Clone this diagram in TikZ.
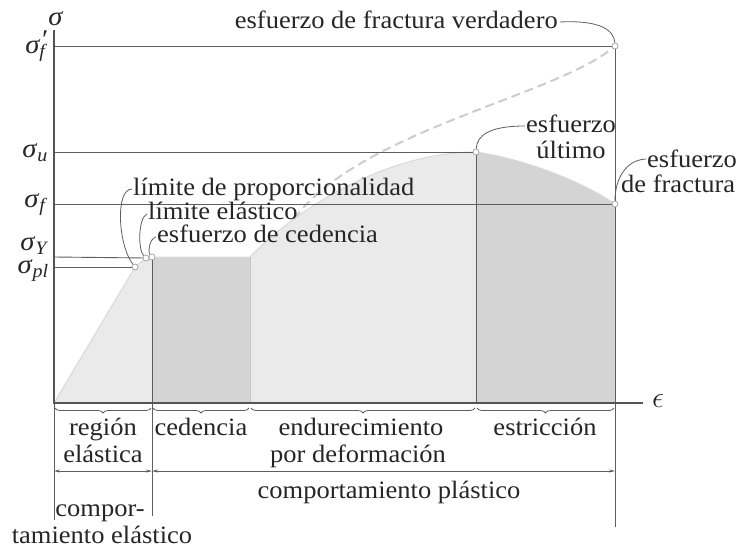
\RequirePackage{fix-cm}
\documentclass[tikz,border=0pt]{standalone}
\usepackage{fontspec}
\setmainfont{Liberation Serif}[FakeStretch=1.06]
\usetikzlibrary{decorations.pathreplacing,arrows.meta}
\definecolor{lightfill}{HTML}{EAEAEA}
\definecolor{darkfill}{HTML}{D4D4D4}
\definecolor{linec}{HTML}{5E5E5E}
\definecolor{txt}{HTML}{262626}
\newcommand\lblfont{\fontsize{25}{27}\selectfont}
\newcommand\sig{\textit{σ}}
\newcommand\subtxt[1]{\textsubscript{\textit{#1}}}
\tikzset{
  every node/.style={inner sep=0pt, text=txt, font=\lblfont},
  refline/.style={draw=linec, line width=0.9pt},
  axisline/.style={draw=linec!90!black, line width=1.6pt},
  edge/.style={draw=gray!45, line width=0.9pt},
  curveline/.style={draw=gray!30, line width=1pt},
  dashline/.style={draw=gray!40, line width=2pt, dash pattern=on 9pt off 5pt},
  leader/.style={draw=linec, line width=0.8pt},
  bracestyle/.style={draw=linec, line width=0.8pt, decorate, decoration={brace, mirror, amplitude=5pt}},
  dimline/.style={draw=linec, line width=0.8pt, {Stealth[length=6pt,width=3pt]}-{Stealth[length=6pt,width=3pt]}},
  dotpt/.style={circle, draw=gray!70, fill=white, line width=0.8pt, minimum size=6pt, inner sep=0pt},
  greek/.style={font=\fontsize{27}{29}\selectfont},
}
\begin{document}
\begin{tikzpicture}[x=1pt,y=-1pt]
\useasboundingbox (0,0) rectangle (753,549);
% key points
\coordinate (O) at (54,403);
\coordinate (PL) at (135,267);
\coordinate (EL) at (146,258);
\coordinate (Y) at (152,257);
\coordinate (H) at (250,257);
\coordinate (U) at (476,152);
\coordinate (F) at (615,204);
\coordinate (FT) at (615,46);
\coordinate (Yb) at (152,403);
\coordinate (Hb) at (250,403);
\coordinate (Ub) at (476,403);
\coordinate (Fb) at (615,403);
% fills
\fill[lightfill] (O) -- (PL) -- (EL) -- (Y) -- (Yb) -- cycle;
\fill[darkfill] (Y) -- (H) -- (Hb) -- (Yb) -- cycle;
\fill[lightfill] (H) .. controls (300,205) and (390,152) .. (U) -- (Ub) -- (Hb) -- cycle;
\fill[darkfill] (U) .. controls (520,158) and (580,180) .. (F) -- (Fb) -- (Ub) -- cycle;
% curve outline
\draw[curveline] (O) -- (PL) -- (EL) -- (Y) -- (H) .. controls (300,205) and (390,152) .. (U) .. controls (520,158) and (580,180) .. (F);
\path (H) .. controls (300,205) and (390,152) .. (U) coordinate[pos=0.25] (D0);
% dashed true curve
\draw[dashline] (D0) .. controls (360,130) and (560,95) .. (FT);
% region edges
\draw[edge] (H) -- (Hb);
% reference lines
\coordinate (aFT) at (54,46);
\coordinate (aU) at (54,152);
\coordinate (aF) at (54,204);
\coordinate (aY) at (54,257);
\coordinate (aPL) at (54,267);
\draw[refline] (aFT) -- (FT);
\draw[refline] (aU) -- (U);
\draw[refline] (aF) -- (F);
\draw[refline] (aY) -- (EL);
\draw[refline] (aPL) -- (PL);
% verticals
\coordinate (vO) at (54,520);
\coordinate (vY) at (152,516);
\coordinate (vF) at (615,527);
\draw[refline] (Y) -- (vY);
\draw[refline] (U) -- (Ub);
\draw[refline] (FT) -- (vF);
\draw[refline] (O) -- (vO);
% axes
\coordinate (atop) at (54,30);
\coordinate (aend) at (643,403);
\draw[axisline] (atop) -- (O) -- (aend);
% braces
\draw[bracestyle] (55,408) -- (151,408);
\draw[bracestyle] (153,408) -- (249,408);
\draw[bracestyle] (251,408) -- (475,408);
\draw[bracestyle] (477,408) -- (614,408);
% dimension arrows
\coordinate (d1) at (54,471);
\coordinate (d2) at (152,471);
\coordinate (d3) at (615,471);
\draw[dimline] (d1) -- (d2);
\draw[dimline] (d2) -- (d3);
% points
\node[dotpt] (pPL) at (PL) {};
\node[dotpt] (pEL) at (EL) {};
\node[dotpt] (pY) at (Y) {};
\node[dotpt] (pU) at (U) {};
\node[dotpt] (pF) at (F) {};
\node[dotpt] (pFT) at (FT) {};
% axis labels
\node[greek, anchor=base] (lsig) at (56,25) {\sig};
\node[font=\fontsize{30}{32}\selectfont] (leps) at (658,401) {$\epsilon$};
\node[greek, anchor=base east] (lsfp) at (48,53) {\sig\raisebox{0.35ex}{\textit{′}}\kern-0.28em\subtxt{f}};
\node[greek, anchor=base east] (lsu) at (48,157) {\sig\subtxt{u}};
\node[greek, anchor=base east] (lsf) at (48,207) {\sig\subtxt{f}};
\node[greek, anchor=base east] (lsy) at (49,250) {\sig\subtxt{Y}};
\node[greek, anchor=base east] (lspl) at (49,273) {\sig\subtxt{pl}};
% callout texts
\node[anchor=base east] (t1) at (558,28) {esfuerzo de fractura verdadero};
\node[anchor=base west] (t2) at (133,195) {límite de proporcionalidad};
\node[anchor=base west] (t3) at (148,219) {límite elástico};
\node[anchor=base west] (t4) at (157,242) {esfuerzo de cedencia};
\node[anchor=base west] (t5) at (526,132) {esfuerzo};
\node[anchor=base] (t6) at (571,158) {último};
\node[anchor=base west] (t7) at (647,167) {esfuerzo};
\node[anchor=base west] (t8) at (621,192) {de fractura};
% leaders
\draw[leader] ([xshift=2pt,yshift=6pt]t1.base east) .. controls (600,20) and (614,30) .. (pFT);
\draw[leader] ([xshift=-1pt,yshift=6pt]t2.base west) .. controls (115,189) and (118,245) .. (pPL);
\draw[leader] ([xshift=-1pt,yshift=5pt]t3.base west) .. controls (138,218) and (138,250) .. (pEL);
\draw[leader] ([xshift=-1pt,yshift=5pt]t4.base west) .. controls (149,239) and (148,252) .. (pY);
\draw[leader] ([xshift=-1pt,yshift=6pt]t5.base west) .. controls (490,126) and (477,135) .. (pU);
\draw[leader] ([xshift=-1pt,yshift=8pt]t7.base west) .. controls (625,160) and (615,180) .. (pF);
% bottom labels
\node[anchor=base] (b1) at (103,435) {región};
\node[anchor=base] (b2) at (103,462) {elástica};
\node[anchor=base] (b3) at (201,435) {cedencia};
\node[anchor=base] (b4) at (361,435) {endurecimiento};
\node[anchor=base] (b5) at (358,462) {por deformación};
\node[anchor=base] (b6) at (545,435) {estricción};
\node[anchor=base] (b7) at (389,498) {comportamiento plástico};
\node[anchor=base] (b8) at (100,516) {compor-};
\node[anchor=base] (b9) at (102,543) {tamiento elástico};
\end{tikzpicture}
\end{document}
